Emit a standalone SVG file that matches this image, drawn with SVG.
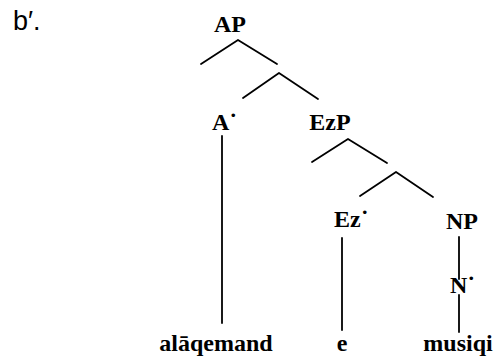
<svg xmlns="http://www.w3.org/2000/svg" width="499" height="364" viewBox="0 0 499 364">
<style>
.lbl{font-family:"Liberation Serif","Times New Roman",serif;font-size:24px;font-weight:bold;fill:#000}
.mid{text-anchor:middle}
.edge{stroke:#000;stroke-width:1.8;fill:none;stroke-linecap:round;stroke-linejoin:round}
</style>
<rect width="499" height="364" fill="#fff"/>
<text x="13" y="30" style="font-family:'Liberation Sans',Arial,sans-serif;font-size:27px;fill:#000">b′.</text>
<g id="connectors">
<polyline class="edge" points="201,64 238,40 277,64"/>
<polyline class="edge" points="243,98 279,73 318,99"/>
<polyline class="edge" points="312,162 348,139 387,163"/>
<polyline class="edge" points="360,196 396,172 433,197"/>
<line class="edge" x1="222" y1="136" x2="222" y2="323"/>
<line class="edge" x1="342" y1="238" x2="342" y2="330"/>
<line class="edge" x1="459" y1="237" x2="459" y2="279"/>
<line class="edge" x1="459" y1="295" x2="459" y2="332"/>
</g>
<g id="AP"><text class="lbl mid" x="230" y="32">AP</text></g>
<g id="Abar"><text class="lbl" x="212" y="130">A˙</text></g>
<g id="EzP"><text class="lbl mid" x="330" y="130">EzP</text></g>
<g id="Ezbar"><text class="lbl" x="334" y="227">Ez˙</text></g>
<g id="NP"><text class="lbl mid" x="462" y="229">NP</text></g>
<g id="Nbar"><text class="lbl" x="450" y="293">N˙</text></g>
<g id="alaqemand"><text class="lbl mid" x="216" y="351">alāqemand</text></g>
<g id="e"><text class="lbl mid" x="342" y="351">e</text></g>
<g id="musiqi"><text class="lbl mid" x="458" y="351">musiqi</text></g>
</svg>
